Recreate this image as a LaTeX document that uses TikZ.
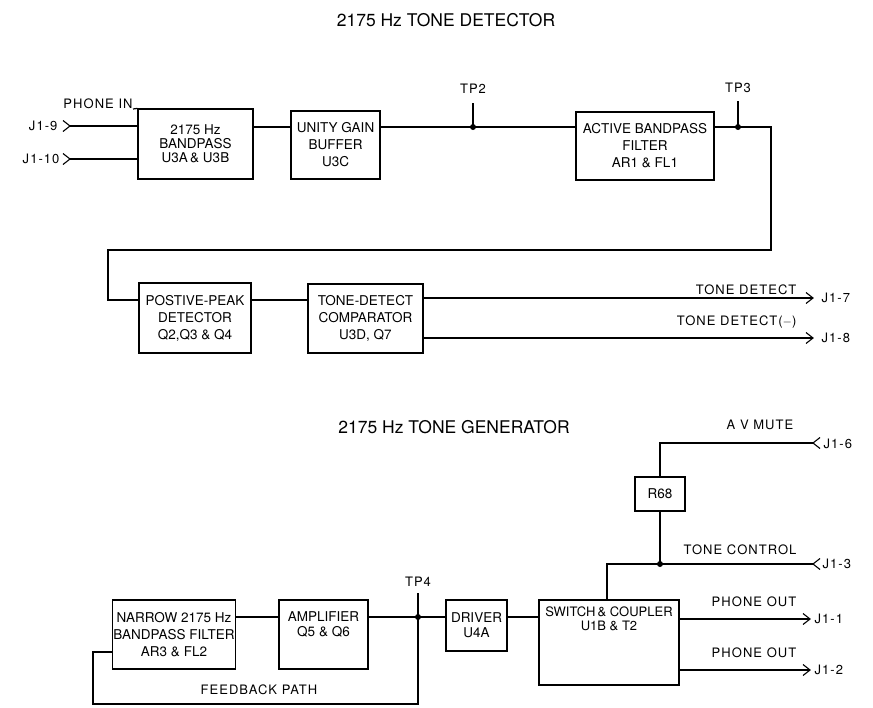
\documentclass[tikz,border=0pt]{standalone}
\usepackage{fontspec}
\setmainfont{TeX Gyre Heros}
\newfontfamily\spacedfont[LetterSpace=8]{TeX Gyre Heros}
\begin{document}
\begin{tikzpicture}[x=1pt,y=-1pt,line width=1.2pt,
  blk/.style={draw,line width=1.2pt,inner sep=1pt,align=center,font=\fontsize{13.5}{17}\selectfont},
  lbl/.style={inner sep=0pt,font=\spacedfont\fontsize{13}{15}\selectfont},
  ttl/.style={inner sep=0pt,font=\fontsize{17.5}{20}\selectfont},
  dotc/.style={circle,fill,inner sep=0pt,minimum size=6pt},
  chevR/.pic={\draw[line width=1.1pt] (-7,-5.5) -- (0,0) -- (-7,5.5);},
  chevL/.pic={\draw[line width=1.1pt] (7,-5.5) -- (0,0) -- (7,5.5);}]
\useasboundingbox (0,0) rectangle (873,707);
% titles
\node[ttl] (t1) at (446,20) {2175 Hz TONE DETECTOR};
\node[ttl] (t2) at (454,427) {2175 Hz TONE GENERATOR};
% detector blocks
\node[blk,minimum width=115pt,minimum height=70pt,font=\fontsize{13.5}{14}\selectfont] (b1) at (195.5,144) {2175 Hz\\BANDPASS\\U3A\,\& U3B};
\node[blk,minimum width=89pt,minimum height=68pt] (b2) at (335.5,145) {UNITY GAIN\\BUFFER\\U3C};
\node[blk,minimum width=138pt,minimum height=68pt] (b3) at (645,146) {ACTIVE BANDPASS\\FILTER\\AR1 \& FL1};
\node[blk,minimum width=112pt,minimum height=70pt] (b4) at (195,318) {POSTIVE-PEAK\\DETECTOR\\Q2,Q3 \& Q4};
\node[blk,minimum width=115pt,minimum height=69pt] (b5) at (365.5,318.5) {TONE-DETECT\\COMPARATOR\\U3D, Q7};
% detector coordinates
\coordinate (j9) at (70,126);
\coordinate (j10) at (70,159);
\coordinate (tp2) at (473,127);
\coordinate (tp3) at (738,127);
\coordinate (r1) at (771,127);
\coordinate (r2) at (771,250);
\coordinate (l1) at (108,250);
\coordinate (l2) at (108,300);
\coordinate (o7) at (813,298);
\coordinate (o8) at (813,338);
\coordinate (pinend) at (133,109);
% detector labels
\node[lbl,anchor=east] (lj9) at (58,126) {J1-9};
\node[lbl,anchor=east] (lj10) at (60,159) {J1-10};
\node[lbl] (pin) at (98,104) {PHONE IN};
\node[lbl] (ltp2) at (473,89) {TP2};
\node[lbl] (ltp3) at (738,88) {TP3};
\node[lbl,anchor=east] (ltd) at (797,290) {TONE DETECT};
\node[lbl,anchor=east] (ltdm) at (797,322) {TONE DETECT($-$)};
\node[lbl,anchor=west] (lj7) at (821,298) {J1-7};
\node[lbl,anchor=west] (lj8) at (821,338) {J1-8};
% detector connectors
\draw (j9) -- (j9 -| b1.west);
\draw (j10) -- (j10 -| b1.west);
\pic at (j9) {chevR};
\pic at (j10) {chevR};
\draw (pinend) -- (b1.north west);
\draw (b1.east |- tp2) -- (b2.west |- tp2);
\draw (b2.east |- tp2) -- (tp2) -- (b3.west |- tp2);
\draw (tp2) -- (ltp2.south |- 0,103);
\draw (b3.east |- tp3) -- (tp3) -- (r1) -- (r2) -- (l1) -- (l2) -- (b4.west |- l2);
\draw (tp3) -- (ltp3.south |- 0,101);
\node[dotc] (dtp2) at (tp2) {};
\node[dotc] (dtp3) at (tp3) {};
\draw (b4.east |- l2) -- (b5.west |- l2);
\draw (b5.east |- o7) -- (o7);
\draw (b5.east |- o8) -- (o8);
\pic at (o7) {chevR};
\pic at (o8) {chevR};
% generator blocks
\node[blk,minimum width=122pt,minimum height=69pt] (nb) at (174,634.5) {NARROW 2175 Hz\\BANDPASS FILTER\\AR3 \& FL2};
\node[blk,minimum width=89pt,minimum height=69pt] (amp) at (323.5,634.5) {};
\node[align=center,inner sep=0pt,font=\fontsize{13.5}{15}\selectfont] (ampt) at (323.5,624) {AMPLIFIER\\Q5 \& Q6};
\node[blk,minimum width=61pt,minimum height=51pt,font=\fontsize{13.5}{15}\selectfont] (drv) at (476.5,625.5) {DRIVER\\U4A};
\node[blk,minimum width=140pt,minimum height=85pt] (sw) at (609,642.5) {};
\node[align=center,inner sep=0pt,font=\fontsize{13}{14}\selectfont] (swt) at (609,619) {SWITCH\,\& COUPLER\\U1B \& T2};
\node[blk,minimum width=50pt,minimum height=34pt] (r68) at (660,494) {R68};
% generator coordinates
\coordinate (tp4) at (418,617);
\coordinate (tp4top) at (418,593);
\coordinate (fbr) at (418,704);
\coordinate (fbl) at (93,704);
\coordinate (fbu) at (93,652);
\coordinate (m6) at (813,443);
\coordinate (m3) at (813,564);
\coordinate (tcd) at (660,564);
\coordinate (swin) at (607,564);
\coordinate (o1) at (810,619);
\coordinate (o2) at (810,670);
% generator labels
\node[lbl] (ltp4) at (418,582) {TP4};
\node[lbl] (lfb) at (259,690) {FEEDBACK PATH};
\node[lbl] (lav) at (760,425) {A V MUTE};
\node[lbl] (ltc) at (740,550) {TONE CONTROL};
\node[lbl] (lpo1) at (754,602) {PHONE OUT};
\node[lbl] (lpo2) at (754,653) {PHONE OUT};
\node[lbl,anchor=west] (lj6) at (823,444) {J1-6};
\node[lbl,anchor=west] (lj3) at (822,564) {J1-3};
\node[lbl,anchor=west] (lj1) at (814,619) {J1-1};
\node[lbl,anchor=west] (lj2) at (814,670) {J1-2};
% generator connectors
\draw (nb.east |- tp4) -- (amp.west |- tp4);
\draw (amp.east |- tp4) -- (tp4) -- (drv.west |- tp4);
\draw (drv.east |- tp4) -- (sw.west |- tp4);
\draw (tp4top) -- (fbr) -- (fbl) -- (fbu) -- (nb.west |- fbu);
\node[dotc] (dtp4) at (tp4) {};
\draw (r68.north) |- (m6);
\pic at (m6) {chevL};
\draw (r68.south) -- (tcd);
\draw (swin |- sw.north) -- (swin) -- (m3);
\pic at (m3) {chevL};
\node[dotc] (dtc) at (tcd) {};
\draw (sw.east |- o1) -- (o1);
\draw (sw.east |- o2) -- (o2);
\pic at (o1) {chevR};
\pic at (o2) {chevR};
\end{tikzpicture}
\end{document}
